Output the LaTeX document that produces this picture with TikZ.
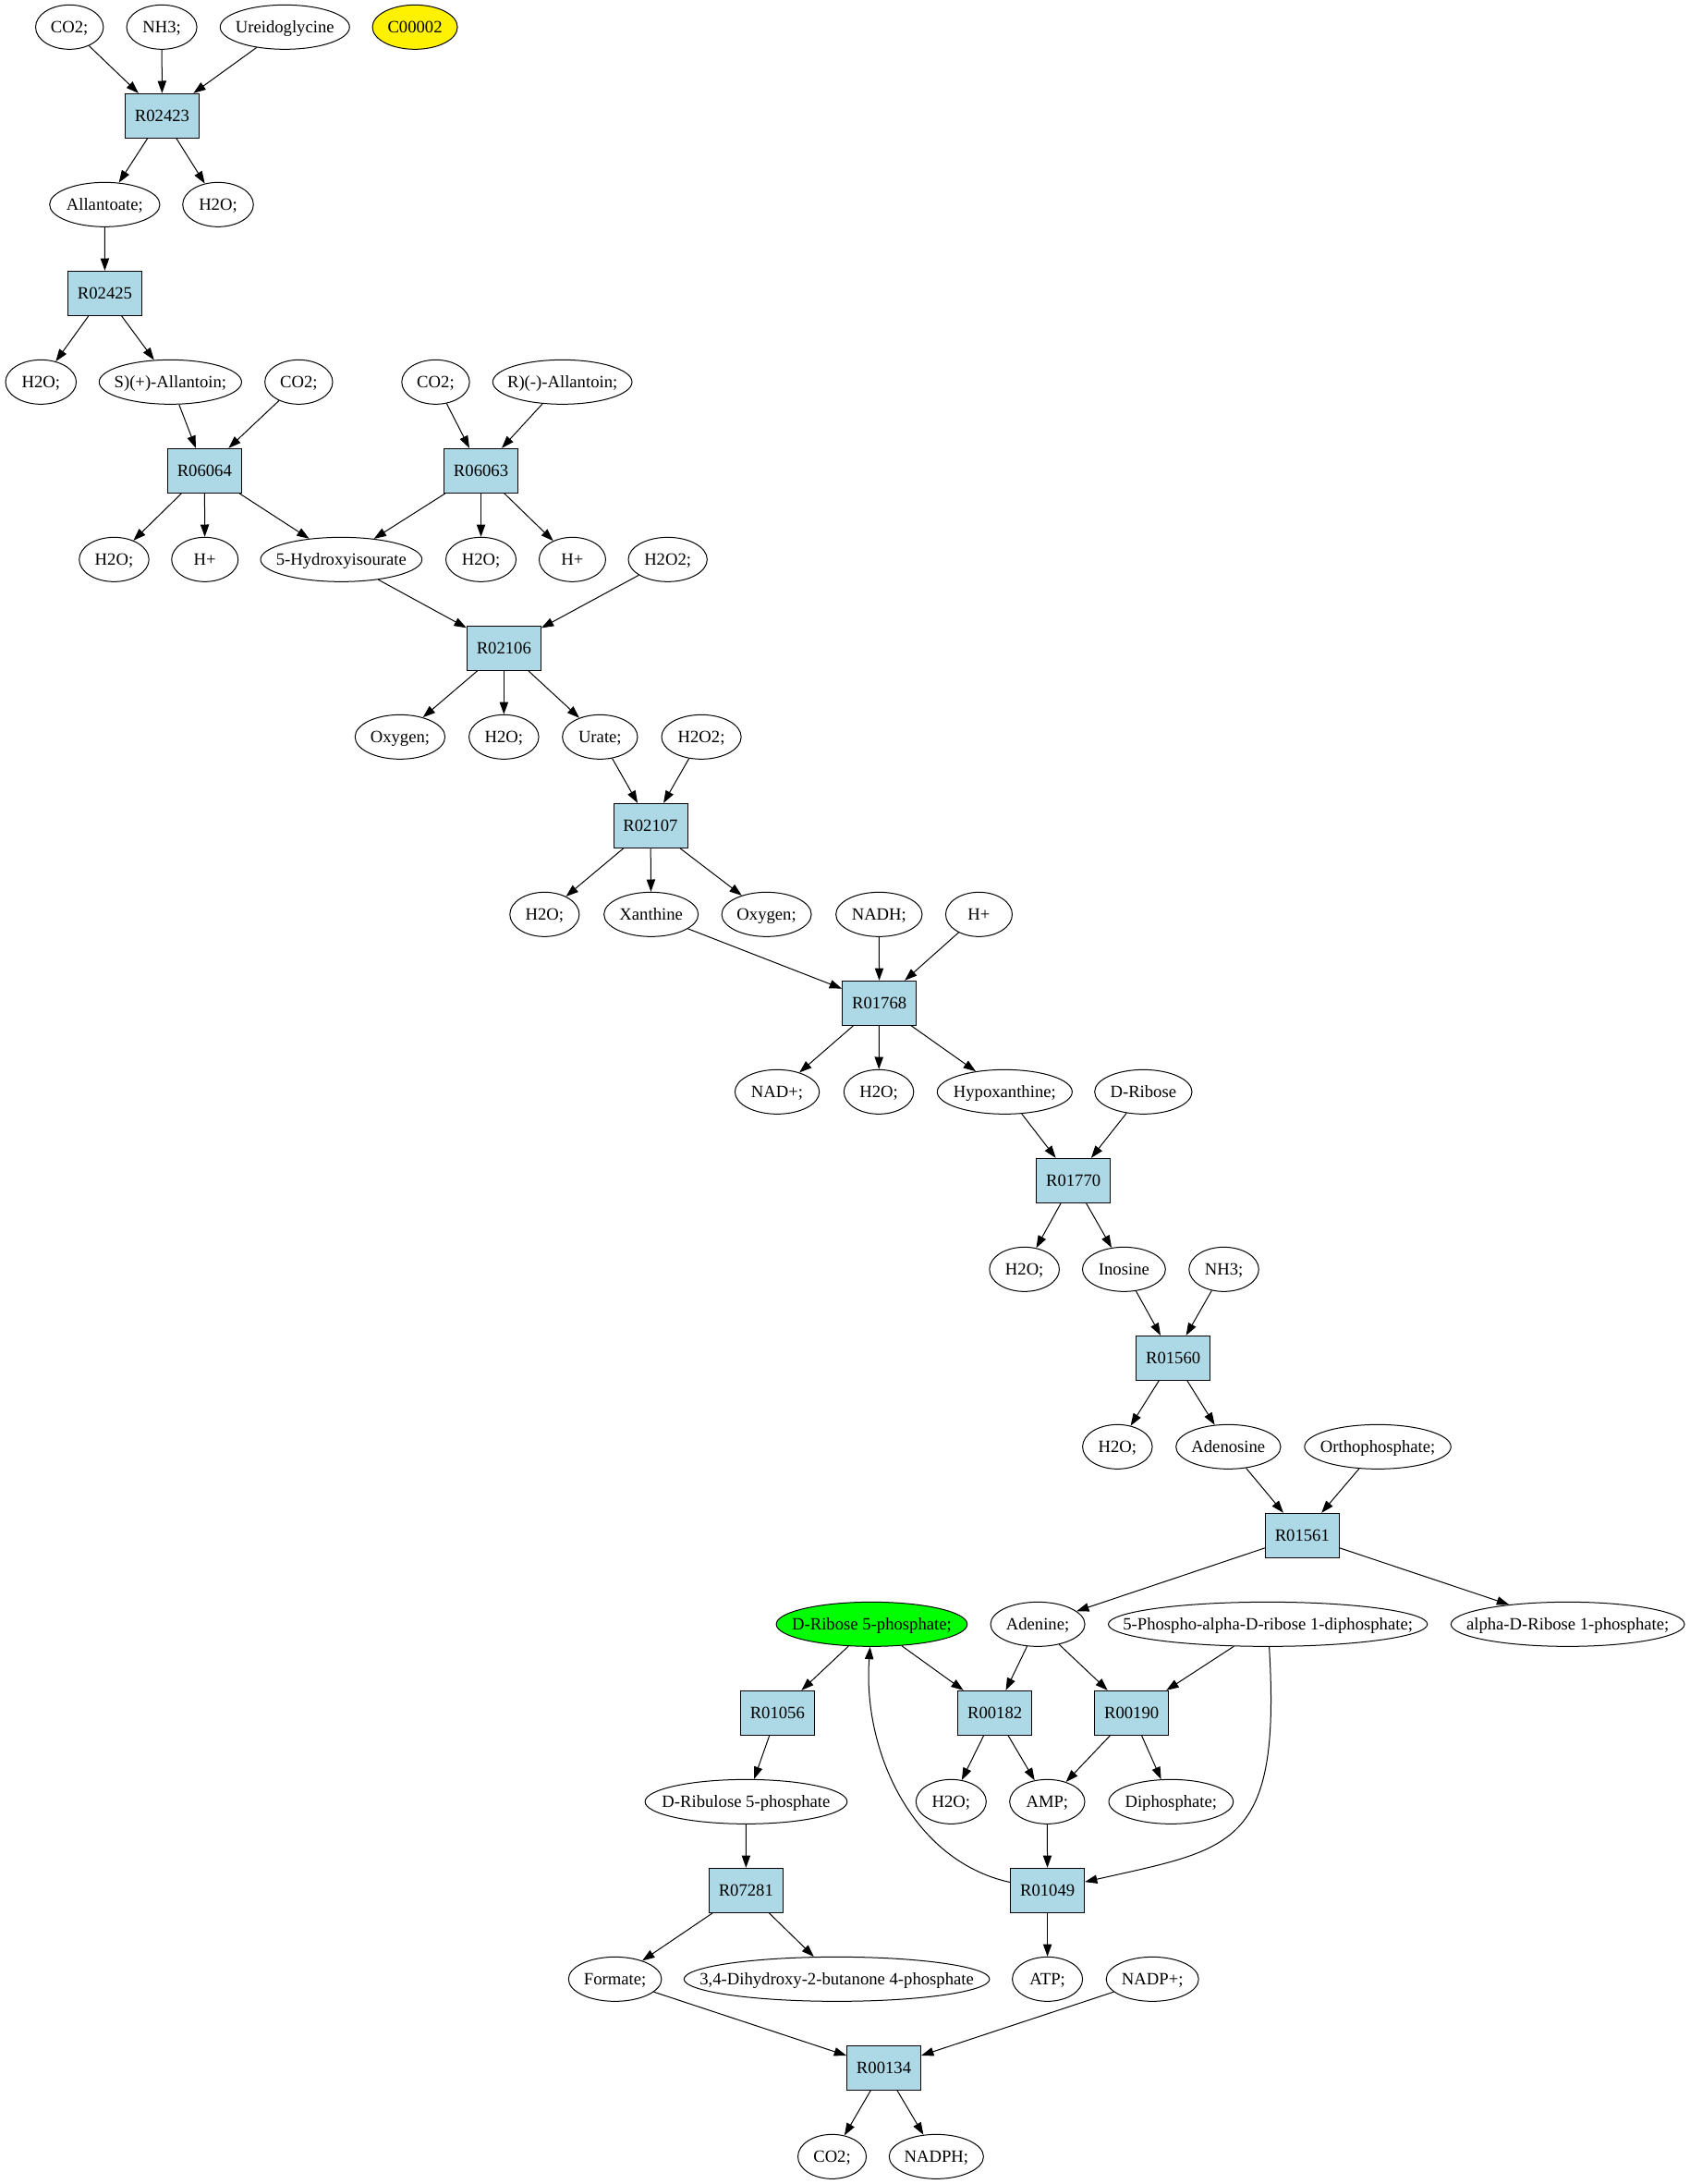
\documentclass[tikz,border=0pt]{standalone}
\usepackage{fontspec}
\setmainfont{Liberation Serif}
\usepackage{tikz}
\usetikzlibrary{shapes.geometric,arrows.meta}
\definecolor{rxnblue}{RGB}{173,216,230}
\tikzset{
  met/.style={ellipse, draw, minimum width=#1, minimum height=36pt, inner xsep=-150pt, inner ysep=0pt, text height=12pt, text depth=3pt},
  rxn/.style={rectangle, draw, fill=rxnblue, minimum width=60pt, minimum height=36pt, inner sep=0pt, text height=12pt, text depth=3pt},
}

\begin{document}
\begin{tikzpicture}[x=1pt, y=-1pt, line width=0.75pt, font=\fontsize{14}{16}\selectfont]
		\useasboundingbox (0,0) rectangle (1371,1772.25);
		\node[met=55pt] (co2a) at (56.4,22) {CO2;};
		\node[met=57pt] (nh3a) at (131.3,22) {NH3;};
		\node[met=105pt] (ureido) at (231.2,22) {Ureidoglycine};
		\node[met=69pt, fill=yellow] (cpd) at (336.8,22) {C00002};
		\node[rxn] (R02423) at (131.6,94) {R02423};
		\node[met=89.5pt] (allan) at (85,166) {Allantoate;};
		\node[met=57.4pt] (h2oa) at (177,166) {H2O;};
		\node[rxn] (R02425) at (85.1,238) {R02425};
		\node[met=57.4pt] (h2ob) at (33.2,310) {H2O;};
		\node[met=115.6pt] (salla) at (138.3,310) {S)(+)-Allantoin;};
		\node[met=55pt] (co2b) at (242.5,310) {CO2;};
		\node[met=55pt] (co2c) at (353.6,310) {CO2;};
		\node[met=113pt] (ralla) at (456.5,310) {R)(-)-Allantoin;};
		\node[rxn] (R06064) at (166,382) {R06064};
		\node[rxn] (R06063) at (390.4,382) {R06063};
		\node[met=56.6pt] (h2oc) at (92.6,454) {H2O;};
		\node[met=54pt] (hpa) at (166.3,454) {H+};
		\node[met=131pt] (hiu) at (277,454) {5-Hydroxyisourate};
		\node[met=57pt] (h2od) at (390.4,454) {H2O;};
		\node[met=54pt] (hpb) at (464.6,454) {H+};
		\node[met=64pt] (h2o2a) at (542,454) {H2O2;};
		\node[rxn] (R02106) at (409,526) {R02106};
		\node[met=73pt] (oxya) at (324.7,598) {Oxygen;};
		\node[met=56.6pt] (h2oe) at (409,598) {H2O;};
		\node[met=61pt] (urate) at (487,598) {Urate;};
		\node[met=64.6pt] (h2o2b) at (569.3,598) {H2O2;};
		\node[rxn] (R02107) at (528,670) {R02107};
		\node[met=56.3pt] (h2of) at (442,742) {H2O;};
		\node[met=76.5pt] (xan) at (528.5,742) {Xanthine};
		\node[met=72.7pt] (oxyb) at (622.2,742) {Oxygen;};
		\node[met=70pt] (nadh) at (713.5,742) {NADH;};
		\node[met=54pt] (hpc) at (794.6,742) {H+};
		\node[rxn] (R01768) at (713.7,814) {R01768};
		\node[met=68.5pt] (nad) at (630.8,886) {NAD+;};
		\node[met=56.6pt] (h2og) at (713.3,886) {H2O;};
		\node[met=109.5pt] (hypox) at (815.5,886) {Hypoxanthine;};
		\node[met=79pt] (drib) at (928,886) {D-Ribose};
		\node[rxn] (R01770) at (871.2,958) {R01770};
		\node[met=56.7pt] (h2oh) at (831.5,1030) {H2O;};
		\node[met=67.4pt] (ino) at (912.3,1030) {Inosine};
		\node[met=56.6pt] (nh3b) at (993.4,1030) {NH3;};
		\node[rxn] (R01560) at (952.2,1102) {R01560};
		\node[met=56.6pt] (h2oi) at (907,1174) {H2O;};
		\node[met=85pt] (ado) at (997,1174) {Adenosine};
		\node[met=118.8pt] (pi) at (1118.3,1174) {Orthophosphate;};
		\node[rxn] (R01561) at (1057,1246) {R01561};
		\node[met=155pt, fill=green] (r5p) at (707.6,1318) {D-Ribose 5-phosphate;};
		\node[met=76.5pt] (ade) at (842.3,1318) {Adenine;};
		\node[met=259pt] (prpp) at (1029.1,1318) {5-Phospho-alpha-D-ribose 1-diphosphate;};
		\node[met=189.5pt] (ar1p) at (1272.5,1318) {alpha-D-Ribose 1-phosphate;};
		\node[rxn] (R01056) at (631,1390) {R01056};
		\node[rxn] (R00182) at (807.5,1390) {R00182};
		\node[rxn] (R00190) at (918.5,1390) {R00190};
		\node[met=164pt] (ru5p) at (605.6,1462) {D-Ribulose 5-phosphate};
		\node[met=57pt] (h2oj) at (772,1462) {H2O;};
		\node[met=61pt] (amp) at (850,1462) {AMP;};
		\node[met=101pt] (ppi) at (950.5,1462) {Diphosphate;};
		\node[rxn] (R07281) at (605.5,1534) {R07281};
		\node[rxn] (R01049) at (850.2,1534) {R01049};
		\node[met=75.5pt] (form) at (499.2,1606) {Formate;};
		\node[met=248pt] (dhbp) at (679.2,1606) {3,4-Dihydroxy-2-butanone 4-phosphate};
		\node[met=57pt] (atp) at (850.2,1606) {ATP;};
		\node[met=75pt] (nadp) at (935.4,1606) {NADP+;};
		\node[rxn] (R00134) at (717.4,1678) {R00134};
		\node[met=55.5pt] (co2d) at (675.4,1750) {CO2;};
		\node[met=76.6pt] (nadph) at (760,1750) {NADPH;};
		%
		\path[->,>={Triangle[length=10pt,width=7pt]}]
		(co2a) edge (R02423)
		(nh3a) edge (R02423)
		(ureido) edge (R02423)
		(R02423) edge (allan)
		(R02423) edge (h2oa)
		(allan) edge (R02425)
		(R02425) edge (h2ob)
		(R02425) edge (salla)
		(salla) edge (R06064)
		(co2b) edge (R06064)
		(co2c) edge (R06063)
		(ralla) edge (R06063)
		(R06064) edge (h2oc)
		(R06064) edge (hpa)
		(R06064) edge (hiu)
		(R06063) edge (hiu)
		(R06063) edge (h2od)
		(R06063) edge (hpb)
		(hiu) edge (R02106)
		(h2o2a) edge (R02106)
		(R02106) edge (oxya)
		(R02106) edge (h2oe)
		(R02106) edge (urate)
		(urate) edge (R02107)
		(h2o2b) edge (R02107)
		(R02107) edge (h2of)
		(R02107) edge (xan)
		(R02107) edge (oxyb)
		(xan) edge (R01768)
		(nadh) edge (R01768)
		(hpc) edge (R01768)
		(R01768) edge (nad)
		(R01768) edge (h2og)
		(R01768) edge (hypox)
		(hypox) edge (R01770)
		(drib) edge (R01770)
		(R01770) edge (h2oh)
		(R01770) edge (ino)
		(ino) edge (R01560)
		(nh3b) edge (R01560)
		(R01560) edge (h2oi)
		(R01560) edge (ado)
		(ado) edge (R01561)
		(pi) edge (R01561)
		(R01561) edge (ade)
		(R01561) edge (ar1p)
		(r5p) edge (R01056)
		(r5p) edge (R00182)
		(ade) edge (R00182)
		(ade) edge (R00190)
		(prpp) edge (R00190)
		(R01056) edge (ru5p)
		(R00182) edge (h2oj)
		(R00182) edge (amp)
		(R00190) edge (amp)
		(R00190) edge (ppi)
		(ru5p) edge (R07281)
		(amp) edge (R01049)
		(R07281) edge (form)
		(R07281) edge (dhbp)
		(R01049) edge (atp)
		(form) edge (R00134)
		(nadp) edge (R00134)
		(R00134) edge (co2d)
		(R00134) edge (nadph);
		\draw[->,>={Triangle[length=10pt,width=7pt]}] (R01049) .. controls (740,1510) and (700,1420) .. (r5p);
		\draw[->,>={Triangle[length=10pt,width=7pt]}] (prpp) .. controls (1040,1500) and (1000,1500) .. (R01049);
	\end{tikzpicture}
\end{document}
